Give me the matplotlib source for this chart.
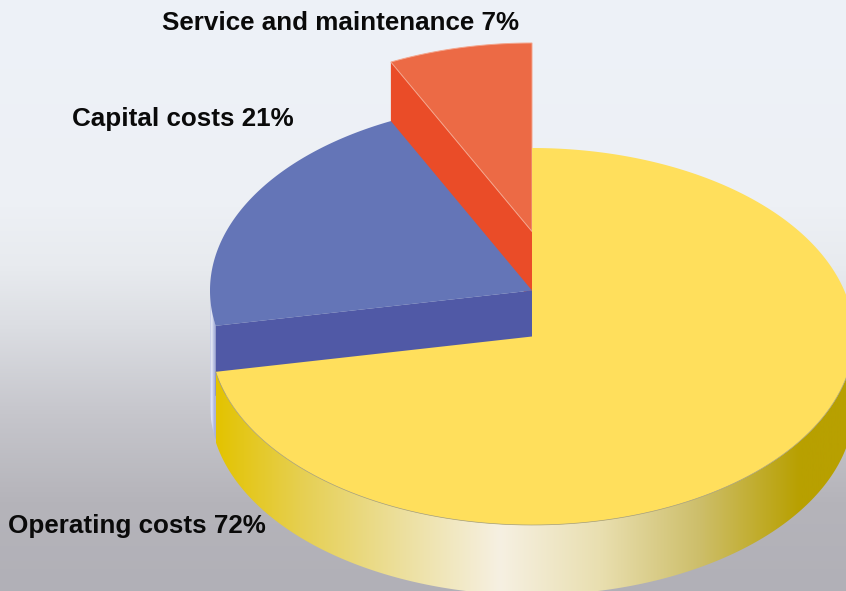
"""3D looking cost pie, drawn by hand because matplotlib has no 3D pie"""

import numpy as np
import matplotlib
matplotlib.use('Agg')
import matplotlib.pyplot as plt
from matplotlib.colors import LinearSegmentedColormap
from matplotlib.patches import Polygon

names = ['Operating costs', 'Capital costs', 'Service and maintenance']
shares = [72, 21, 7]
# the slices as drawn are not quite the printed percentages
drawn = [72, 20.78, 7.22]

top_colors = ['#ffdf5c', '#6475b7', '#ec6a45']
side_colors = ['#e3c300', '#5059a6', '#ea4c28']

# background, top to bottom
bg_stops = [0.0, 0.35, 0.45, 0.55, 0.7, 0.85, 1.0]
bg_colors = ['#eef2f8', '#edf0f5', '#e8ebef', '#dcdee3', '#c6c6cc', '#b5b4ba', '#b1b0b7']

# curved wall of the yellow slice, left to right in pixels
wall_stops = [216, 300, 400, 500, 600, 700, 800, 846]
wall_colors = ['#e3c300', '#e6cf50', '#ecdf9c', '#f6f0e2', '#e9dfb0', '#cdbe6a', '#b8a000', '#b8a000']

W, H = 846, 591
CX, CY = 532, 336.5   # centre of the yellow top
RX, RY = 322, 188.5
DEPTH = 70
lift = [0, 46, 105]   # how far each slice is pulled up

fig = plt.figure(figsize=(W / 100, H / 100), dpi=100)
ax = fig.add_axes([0, 0, 1, 1])
ax.set_xlim(0, W)
ax.set_ylim(H, 0)
ax.axis('off')


def arc(a0, a1, cy, n=200):
    # angles clockwise from 12 o'clock
    t = np.radians(np.linspace(a0, a1, n))
    return np.column_stack([CX + RX * np.sin(t), cy - RY * np.cos(t)])


def gradient(stops, colors, vmin, vmax, extent, vertical=False, clip=None):
    cmap = LinearSegmentedColormap.from_list(
        'g', [((s - vmin) / (vmax - vmin), c) for s, c in zip(stops, colors)], N=1024)
    g = np.linspace(0, 1, 1024)
    g = g[:, None] if vertical else g[None, :]
    im = ax.imshow(g, cmap=cmap, extent=extent, aspect='auto', zorder=0 if clip is None else clip[1])
    if clip is not None:
        patch = Polygon(clip[0], closed=True, transform=ax.transData, fc='none', ec='none')
        ax.add_patch(patch)
        im.set_clip_path(patch)
    return im


gradient(bg_stops, bg_colors, 0, 1, (0, W, H, 0), vertical=True)

ends = np.cumsum(drawn) * 360 / sum(drawn)
starts = np.concatenate([[0], ends[:-1]])

# red
cy = CY - lift[2]
a0, a1 = starts[2], ends[2]
p0 = arc(a0, a0, cy, 1)[0]
ax.add_patch(Polygon([p0, (CX, cy), (CX, cy + 70), (p0[0], p0[1] + 70)], fc=side_colors[2], ec='none', zorder=2))
ax.add_patch(Polygon(np.vstack([[(CX, cy)], arc(a0, a1, cy)]), fc=top_colors[2], ec='#f4a58c', lw=0.7, zorder=3))

# blue, with the pale sliver of wall down its left edge
cy = CY - lift[1]
a0, a1 = starts[1], ends[1]
upper = arc(a0, 270, cy, 60)
sliver = np.vstack([upper, upper[::-1] + [0, 114]])
gradient([0, 0.35, 0.6, 1], ['#aab3dd', '#eef0f8', '#c3cae8', '#9fa9d8'], 0, 1,
         (upper[:, 0].min(), upper[:, 0].max(), H, 0), clip=(sliver, 4))
p0 = arc(a0, a0, cy, 1)[0]
ax.add_patch(Polygon([p0, (CX, cy), (CX, cy + DEPTH), (p0[0], p0[1] + DEPTH)], fc=side_colors[1], ec='none', zorder=5))
ax.add_patch(Polygon(np.vstack([[(CX, cy)], arc(a0, a1, cy)]), fc=top_colors[1], ec='none', zorder=6))

# yellow
a0, a1 = starts[0], ends[0]
low = arc(90, a1, CY)
wall = np.vstack([low, low[::-1] + [0, DEPTH]])
gradient(wall_stops, wall_colors, 216, 846, (216, 846, H + 20, 0), clip=(wall, 7))
ax.set_xlim(0, W)
ax.set_ylim(H, 0)
ax.add_patch(Polygon(np.vstack([[(CX, CY)], arc(a0, a1, CY, 500)]), fc=top_colors[0], ec='none', zorder=8))
ax.plot(low[:, 0], low[:, 1], color='#a9a27a', lw=0.5, zorder=9)

label_pos = [(8, 526), (72, 119), (162, 23)]
for name, share, (x, y) in zip(names, shares, label_pos):
    ax.text(x, y, f'{name} {share}%', family='Liberation Sans', weight='bold', fontsize=18.75,
            color='#0a0a0a', va='center', ha='left', zorder=10)

fig.savefig('out.png', dpi=100)
